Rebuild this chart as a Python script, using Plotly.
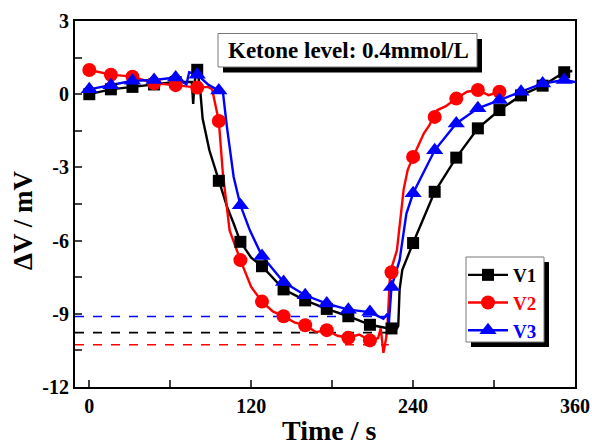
import plotly.graph_objects as go

# ---- marker data ----
v1_t = [0, 16, 32, 48, 64, 80, 96, 112, 128, 144, 160, 176, 192, 208, 224, 240, 256, 272, 288, 304, 320, 336, 352]
v1_v = [0.0, 0.2, 0.3, 0.4, 0.5, 1.0, -3.55, -6.05, -7.05, -8.0, -8.45, -8.8, -9.1, -9.45, -9.6, -6.1, -4.0, -2.6, -1.4, -0.65, -0.05, 0.35, 0.9]

v2_t = [0, 16, 32, 48, 64, 80, 96, 112, 128, 144, 160, 176, 192, 208, 224, 240, 256, 272, 288, 304]
v2_v = [0.99, 0.8, 0.72, 0.45, 0.37, 0.27, -1.1, -6.8, -8.5, -9.1, -9.47, -9.67, -9.98, -10.09, -7.3, -2.57, -0.93, -0.18, 0.17, 0.1]

v3_t = [0, 16, 32, 48, 64, 80, 96, 112, 128, 144, 160, 176, 192, 208, 224, 240, 256, 272, 288, 304, 320, 336, 352]
v3_v = [0.2, 0.37, 0.55, 0.58, 0.68, 0.8, 0.15, -4.55, -6.63, -7.7, -8.24, -8.58, -8.83, -8.93, -7.9, -4.06, -2.3, -1.2, -0.58, -0.24, 0.1, 0.44, 0.58]

v1_line_t = [0, 16, 32, 48, 64, 76, 77, 78, 80, 82, 84, 89, 96, 102, 107, 112, 120, 128, 144, 160, 176, 192, 208, 222, 228, 229, 230, 232, 240, 256, 272, 288, 304, 320, 336, 352, 358]
v1_line_v = [0.0, 0.2, 0.3, 0.4, 0.5, 0.5, -0.4, 0.5, 1.0, 0.3, -1.0, -2.3, -3.55, -4.6, -5.3, -6.05, -6.7, -7.05, -8.0, -8.45, -8.8, -9.1, -9.45, -9.6, -9.6, -9.5, -8.0, -7.2, -6.1, -4.0, -2.6, -1.4, -0.65, -0.05, 0.35, 0.9, 0.95]

v2_line_t = [0, 16, 32, 48, 64, 80, 88, 91, 96, 99, 104, 112, 120, 128, 136, 144, 152, 160, 168, 176, 184, 192, 200, 208, 214, 216, 218, 220, 221, 223, 228, 233, 236, 240, 248, 252, 255, 258, 264, 272, 280, 288, 296, 304, 306]
v2_line_v = [0.99, 0.8, 0.72, 0.45, 0.37, 0.27, 0.3, 0.2, -1.1, -3.25, -5.58, -6.8, -7.9, -8.5, -8.9, -9.1, -9.35, -9.47, -9.75, -9.67, -9.9, -9.98, -9.85, -10.09, -10.0, -9.6, -10.6, -10.0, -9.5, -7.3, -6.4, -3.9, -3.1, -2.57, -1.6, -1.28, -0.93, -0.65, -0.5, -0.18, 0.1, 0.17, -0.04, 0.1, 0.1]

v3_line_t = [0, 16, 32, 48, 64, 72, 74, 80, 88, 96, 99, 102, 107, 112, 119, 128, 144, 160, 176, 192, 208, 218, 221, 222, 223, 224, 230, 235, 240, 256, 272, 288, 304, 320, 336, 352, 360]
v3_line_v = [0.2, 0.37, 0.55, 0.58, 0.68, 0.4, 0.9, 0.8, 0.4, 0.15, 0.1, -1.34, -3.39, -4.55, -5.58, -6.63, -7.7, -8.24, -8.58, -8.83, -8.93, -9.2, -9.0, -9.4, -8.6, -7.9, -6.8, -4.9, -4.06, -2.3, -1.2, -0.58, -0.24, 0.1, 0.44, 0.58, 0.5]

# dashed baseline levels (V1, V2, V3) and their time extent
level_vals = [-9.77, -10.27, -9.11]
level_t = [-10.6, 222]

names = ["V1", "V2", "V3"]
colors = ["#000000", "#ff0000", "#0000ff"]
symbols = ["square", "circle", "triangle-up"]
msizes = [12, 14, 15]

FONT = "Liberation Serif, Times New Roman, serif"

fig = go.Figure()

for lv, c in zip(level_vals, colors):
    fig.add_trace(go.Scatter(x=level_t, y=[lv, lv], mode="lines",
                             line=dict(color=c, width=1.6, dash="dash"),
                             showlegend=False, hoverinfo="skip"))

lines = [(v1_line_t, v1_line_v), (v2_line_t, v2_line_v), (v3_line_t, v3_line_v)]
marks = [(v1_t, v1_v), (v2_t, v2_v), (v3_t, v3_v)]

for (lt, lv), c in zip(lines, colors):
    fig.add_trace(go.Scatter(x=lt, y=lv, mode="lines", line=dict(color=c, width=2.4),
                             showlegend=False, hoverinfo="skip"))
for (mt, mv), c, s, ms in zip(marks, colors, symbols, msizes):
    fig.add_trace(go.Scatter(x=mt, y=mv, mode="markers",
                             marker=dict(color=c, symbol=s, size=ms, line=dict(width=0)),
                             showlegend=False))
for n, c, s, ms in zip(names, colors, symbols, msizes):
    fig.add_trace(go.Scatter(x=[None], y=[None], mode="lines+markers",
                             name=f"<b><span style='color:{c}'>{n}</span></b>",
                             line=dict(color=c, width=2.4),
                             marker=dict(color=c, symbol=s, size=ms)))

L, R, T, B = 75, 17, 21, 59
W, H = 592, 446
pw, ph = W - L - R, H - T - B

def px(x):
    return (x - L) / pw

def py(y):
    return (H - B - y) / ph

yt = [-12 + 1.5 * i for i in range(11)]
ytext = [f"<b>{int(v)}</b>" if v % 3 == 0 else "" for v in yt]
xt = [0, 60, 120, 180, 240, 300, 360]
xtext = ["<b>0</b>", "", "<b>120</b>", "", "<b>240</b>", "", "<b>360</b>"]

shapes = [
    dict(type="rect", xref="paper", yref="paper", x0=px(223), x1=px(482), y0=py(72.5), y1=py(39),
         fillcolor="black", line=dict(width=0), layer="above"),
    dict(type="rect", xref="paper", yref="paper", x0=px(218), x1=px(477), y0=py(67), y1=py(33.5),
         fillcolor="white", line=dict(color="#777777", width=1), layer="above"),
    dict(type="rect", xref="paper", yref="paper", x0=px(471), x1=px(549), y0=py(347), y1=py(262),
         fillcolor="black", line=dict(width=0), layer="above"),
    dict(type="rect", xref="paper", yref="paper", x0=px(466), x1=px(544), y0=py(342), y1=py(257),
         fillcolor="white", line=dict(color="#777777", width=1), layer="above"),
]

annotations = [
    dict(text="<b>Ketone level: 0.4mmol/L</b>", xref="paper", yref="paper", x=px(348), y=py(51),
         xanchor="center", yanchor="middle", showarrow=False, font=dict(family=FONT, size=23, color="black")),
    dict(text="<b>Time / s</b>", xref="paper", yref="paper", x=px(329), y=py(430),
         xanchor="center", yanchor="middle", showarrow=False, font=dict(family=FONT, size=28, color="black")),
    dict(text="<b>ΔV / mV</b>", xref="paper", yref="paper", x=px(23), y=py(221), textangle=-90,
         xanchor="center", yanchor="middle", showarrow=False, font=dict(family=FONT, size=27, color="black")),
]

fig.update_layout(
    width=W, height=H,
    margin=dict(l=L, r=R, t=T, b=B, autoexpand=False),
    paper_bgcolor="white", plot_bgcolor="white",
    font=dict(family=FONT, size=20, color="black"),
    showlegend=True,
    legend=dict(x=px(463), y=py(256), xanchor="left", yanchor="top",
                bgcolor="rgba(0,0,0,0)", borderwidth=0,
                font=dict(family=FONT, size=19), tracegroupgap=0,
                itemwidth=40),
    shapes=shapes,
    annotations=annotations,
    xaxis=dict(range=[-10.6, 360], tickvals=xt, ticktext=xtext, ticks="inside", ticklen=7,
               tickwidth=2, showline=True, linewidth=2, linecolor="black", mirror=True,
               showgrid=False, zeroline=False, automargin=False,
               tickfont=dict(family=FONT, size=20, color="black")),
    yaxis=dict(range=[-12, 3], tickvals=yt, ticktext=ytext, ticks="inside", ticklen=7,
               tickwidth=2, showline=True, linewidth=2, linecolor="black", mirror=True,
               showgrid=False, zeroline=False, automargin=False,
               tickfont=dict(family=FONT, size=20, color="black")),
)

fig.write_html("out.html")
